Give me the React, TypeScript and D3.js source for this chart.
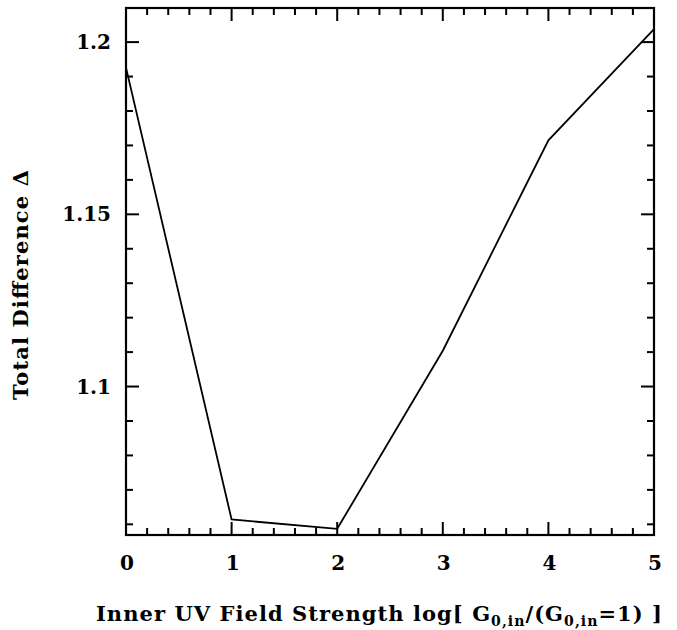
import React from "react";
import * as d3 from "d3";

const xValues = [0, 1, 2, 3, 4, 5];
const deltaValues = [1.1926, 1.0614, 1.0587, 1.1104, 1.1715, 1.2038];
const xTicks = [0, 1, 2, 3, 4, 5];
const yTicks = [1.1, 1.15, 1.2];
const yTickLabels = ["1.1", "1.15", "1.2"];

const W = 677;
const H = 630;
const left = 126;
const right = 654;
const top = 8;
const bottom = 535;
const FONT = "'DejaVu Serif', serif";

export default function App() {
  const x = d3.scaleLinear().domain([0, 5]).range([left, right]);
  const y = d3.scaleLinear().domain([1.0569, 1.2099]).range([bottom, top]);
  const line = d3
    .line<number>()
    .x((_, i) => x(xValues[i]))
    .y((d) => y(d));

  const xMinor = d3.range(0, 5.0001, 0.2);
  const yMinor = d3.range(1.06, 1.2099, 0.01);

  return (
    <svg
      width={W}
      height={H}
      style={{ position: "absolute", left: 0, top: 0, background: "#fff" }}
    >
      <rect x={0} y={0} width={W} height={H} fill="#fff" />
      {xMinor.map((v, i) => {
        const major = Math.abs(v - Math.round(v)) < 1e-6;
        const len = major ? 13 : 7;
        return (
          <g key={"xt" + i} stroke="#000" strokeWidth={2}>
            <line x1={x(v)} x2={x(v)} y1={bottom} y2={bottom - len} />
            <line x1={x(v)} x2={x(v)} y1={top} y2={top + len} />
          </g>
        );
      })}
      {yMinor.map((v, i) => {
        const major = Math.abs(v * 20 - Math.round(v * 20)) < 1e-6;
        const len = major ? 13 : 7;
        return (
          <g key={"yt" + i} stroke="#000" strokeWidth={2}>
            <line x1={left} x2={left + len} y1={y(v)} y2={y(v)} />
            <line x1={right} x2={right - len} y1={y(v)} y2={y(v)} />
          </g>
        );
      })}
      <rect
        x={left}
        y={top}
        width={right - left}
        height={bottom - top}
        fill="none"
        stroke="#000"
        strokeWidth={2.2}
      />
      <path d={line(deltaValues) || ""} fill="none" stroke="#000" strokeWidth={1.8} />
      {xTicks.map((v) => (
        <text
          key={"xl" + v}
          x={x(v) + 1}
          y={570}
          textAnchor="middle"
          fontFamily={FONT}
          fontSize={20}
          fontWeight="bold"
        >
          {v}
        </text>
      ))}
      {yTicks.map((v, i) => (
        <text
          key={"yl" + v}
          x={111}
          y={y(v) + 7}
          textAnchor="end"
          fontFamily={FONT}
          fontSize={20}
          fontWeight="bold"
        >
          {yTickLabels[i]}
        </text>
      ))}
      <text
        x={96}
        y={621}
        fontFamily={FONT}
        fontSize={21}
        fontWeight="bold"
        textLength={566}
        lengthAdjust="spacing"
      >
        Inner UV Field Strength log[ G
        <tspan fontSize={14} dy={5}>0,in</tspan>
        <tspan dy={-5}>/(G</tspan>
        <tspan fontSize={14} dy={5}>0,in</tspan>
        <tspan dy={-5}>=1) ]</tspan>
      </text>
      <text
        transform={`translate(28,${285}) rotate(-90)`}
        textAnchor="middle"
        fontFamily={FONT}
        fontSize={21}
        fontWeight="bold"
        textLength={230}
        lengthAdjust="spacing"
      >
        Total Difference Δ
      </text>
    </svg>
  );
}
